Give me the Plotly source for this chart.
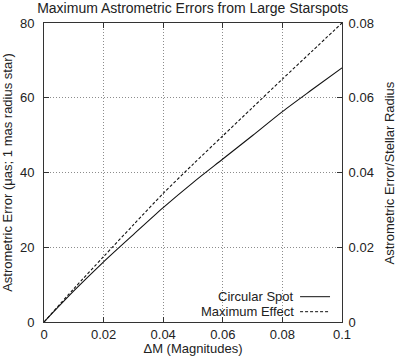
import plotly.graph_objects as go

dm = [0.0, 0.01, 0.02, 0.03, 0.04, 0.05, 0.06, 0.07, 0.08, 0.09, 0.1]
circular_spot = [0.0, 8.3, 16.1, 23.4, 30.6, 37.3, 43.6, 49.9, 56.3, 62.2, 68.0]
maximum_effect = [0.0, 8.9, 17.5, 26.0, 34.4, 42.2, 49.8, 57.4, 65.0, 72.5, 80.0]
x_ticks = [0, 0.02, 0.04, 0.06, 0.08, 0.1]
x_tick_labels = ["0", "0.02", "0.04", "0.06", "0.08", "0.1"]
y_ticks = [0, 20, 40, 60, 80]
y2_ticks = [0, 0.02, 0.04, 0.06, 0.08]
y2_tick_labels = ["0", "0.02", "0.04", "0.06", "0.08"]
mas_radius_uas = 1000.0  # 1 mas stellar radius in µas

W, H = 400, 356
L, R, T, B = 43.5, 58, 23, 34
FONT = "Liberation Sans, Arial, Helvetica, sans-serif"
TXT = "#222222"

fig = go.Figure()
fig.add_trace(go.Scatter(x=dm, y=circular_spot, mode="lines", name="Circular Spot",
                         line=dict(color="#111111", width=1.1, shape="spline", smoothing=0.8),
                         showlegend=False))
fig.add_trace(go.Scatter(x=dm, y=maximum_effect, mode="lines", name="Maximum Effect",
                         line=dict(color="#111111", width=1.1, dash="3px,2px", shape="spline",
                                   smoothing=0.8),
                         showlegend=False))
# same curve in stellar-radius units on the right axis (invisible, only to carry the axis)
fig.add_trace(go.Scatter(x=dm, y=[v / mas_radius_uas for v in maximum_effect], yaxis="y2",
                         mode="lines", line=dict(width=0), opacity=0, hoverinfo="skip",
                         showlegend=False))

axis_common = dict(showline=True, linecolor="#333333", linewidth=1, ticks="inside",
                   ticklen=5, tickcolor="#333333", zeroline=False,
                   showgrid=True, gridcolor="#8c8c8c", gridwidth=1, griddash="1px,2px",
                   tickfont=dict(family=FONT, size=13, color=TXT))

fig.update_layout(
    width=W, height=H,
    margin=dict(l=L, r=R, t=T, b=B, autoexpand=False),
    plot_bgcolor="white", paper_bgcolor="white",
    title=dict(text="Maximum Astrometric Errors from Large Starspots",
               font=dict(family=FONT, size=14, color=TXT),
               x=(L + (W - L - R) / 2) / W, xanchor="center",
               yref="container", y=1 - 8.5 / H, yanchor="middle"),
    xaxis=dict(range=[0, 0.1], tickvals=x_ticks, ticktext=x_tick_labels, mirror="ticks",
               title=dict(text="ΔM (Magnitudes)", font=dict(family=FONT, size=13, color=TXT),
                          standoff=2),
               **axis_common),
    yaxis=dict(range=[0, 80], tickvals=y_ticks, ticklabelstandoff=6,
               title=dict(text="Astrometric Error (μas; 1 mas radius star)",
                          font=dict(family=FONT, size=13, color=TXT), standoff=5),
               **axis_common),
    yaxis2=dict(range=[0, 0.08], tickvals=y2_ticks, ticktext=y2_tick_labels,
                overlaying="y", side="right", ticklabelstandoff=3,
                showline=True, linecolor="#333333", linewidth=1, ticks="inside",
                ticklen=5, tickcolor="#333333", zeroline=False, showgrid=False,
                tickfont=dict(family=FONT, size=13, color=TXT)),
)

px = lambda v: (v - L) / (W - L - R)
py = lambda v: 1 - (v - T) / (H - T - B)

# right axis title
fig.add_annotation(text="Astrometric Error/Stellar Radius", xref="paper", yref="paper",
                   x=px(390), y=py((T + H - B) / 2), textangle=-90, showarrow=False,
                   xanchor="center", yanchor="middle",
                   font=dict(family=FONT, size=13, color=TXT))

# legend (gnuplot style: text right-aligned, sample to the right), white box interrupts grid
fig.add_shape(type="rect", xref="x", yref="y", x0=0.0355, x1=0.1, y0=1.6, y1=8.6,
              fillcolor="white", line=dict(width=0), layer="below")
legend_items = [("Circular Spot", 296.7, None), ("Maximum Effect", 311.7, "3px,2px")]
for name, yy, dash in legend_items:
    fig.add_annotation(text=name, xref="paper", yref="paper", x=px(295.5), y=py(yy),
                       xanchor="right", yanchor="middle", showarrow=False,
                       font=dict(family=FONT, size=13, color=TXT))
    fig.add_shape(type="line", xref="paper", yref="paper", x0=px(300), x1=px(330),
                  y0=py(yy), y1=py(yy),
                  line=dict(color="#111111", width=1, dash=dash))

fig.write_html("out.html", config={"displayModeBar": False},
               post_script="document.body.style.margin='0';document.body.style.overflow='hidden';")
